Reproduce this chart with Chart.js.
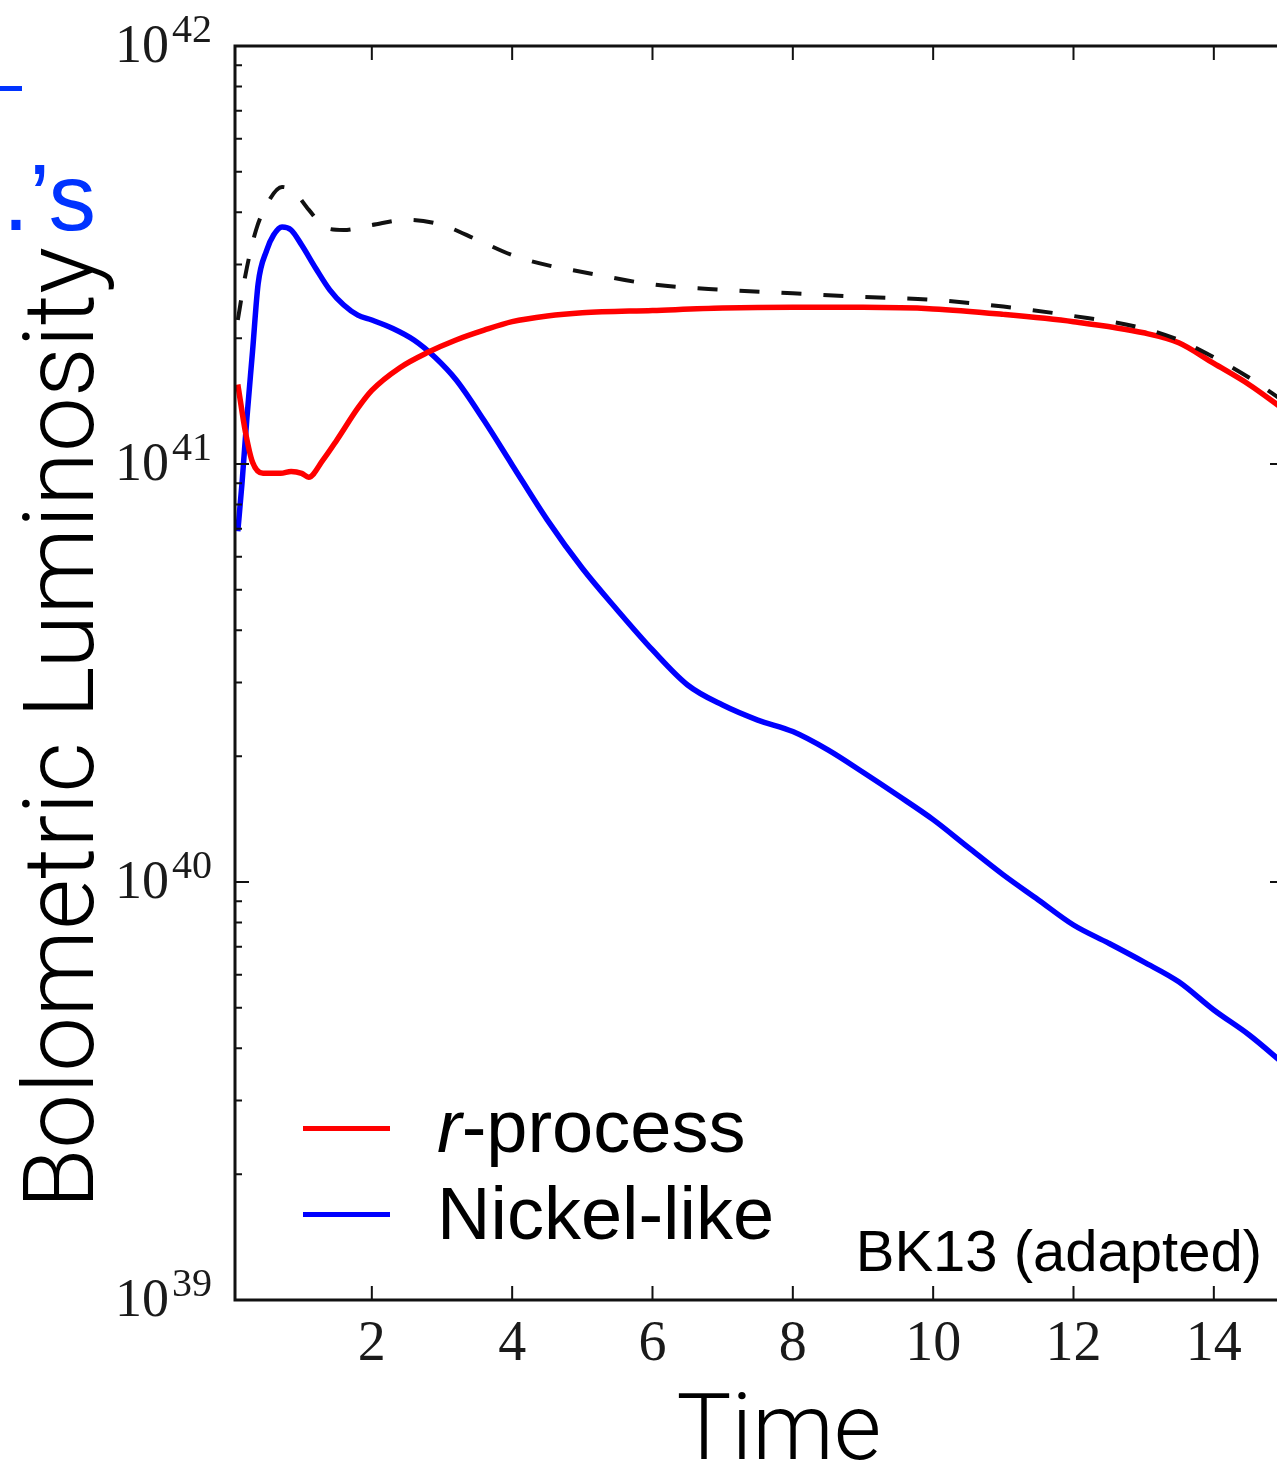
<!DOCTYPE html>
<html lang="en">
<head>
<meta charset="UTF-8">
<title>Bolometric Luminosity</title>
<script src="https://cdn.jsdelivr.net/npm/chart.js"></script>
<style>
  html, body { margin: 0; padding: 0; background: #fff; overflow: hidden; }
  body { width: 1277px; height: 1468px; position: relative; }
  #wrap { position: absolute; left: 0; top: 0; width: 1300px; height: 1468px; }
  .txt {
    position: absolute; white-space: nowrap; line-height: 1; color: #000;
    font-family: "Helvetica Neue", Roboto, "Liberation Sans", sans-serif; font-weight: 300;
  }
  #ytitle { font-size: 98px; left: 60px; top: 728px; transform: translate(-50%, -50%) rotate(-90deg); }
  #xtitle { font-size: 92px; left: 779px; top: 1382px; transform: translateX(-50%); }
  #note { font-size: 58px; font-weight: 400; font-family: "Helvetica Neue", "Liberation Sans", sans-serif; right: 15px; top: 1222px; }
  #blue2 { font-size: 95px; color: #0033ff; font-weight: 400; font-family: "Helvetica Neue", "Liberation Sans", sans-serif; right: 1181px; top: 150px; }
  #bluebar { position: absolute; left: 0; top: 86px; width: 22px; height: 5px; background: #0033ff; }
  .leg { font-size: 74px; font-weight: 400; font-family: "Helvetica Neue", "Liberation Sans", sans-serif; left: 437px; }
  .legline { position: absolute; left: 303px; width: 87px; height: 5px; }
</style>
</head>
<body>
<div id="wrap"><canvas id="lc" width="1300" height="1468"></canvas></div>

<div id="bluebar"></div>
<div class="txt" id="blue2">et al.’s</div>
<div class="txt" id="ytitle">Bolometric Luminosity</div>
<div class="txt" id="xtitle">Time</div>
<div class="legline" style="top:1126px;background:#ff0000"></div>
<div class="txt leg" style="top:1090px"><i>r</i>-process</div>
<div class="legline" style="top:1212px;background:#0000ff"></div>
<div class="txt leg" style="top:1177px">Nickel-like</div>
<div class="txt" id="note">BK13 (adapted)</div>

<script>
// r-process heating
const rTime = [0.09, 0.2, 0.3, 0.45, 0.7, 0.85, 1.0, 1.1, 1.3, 1.5, 1.8, 2.0, 2.4, 2.8, 3.2, 3.6, 4.0, 4.5, 5.0, 6.0, 7.0, 8.0, 9.0, 10.0, 11.0, 12.0, 13.0, 13.5, 14.0, 14.5, 15.0]
const rLum = [1.55e41, 1.19e41, 1.01e41, 9.5e40, 9.5e40, 9.6e40, 9.5e40, 9.3e40, 1.02e41, 1.14e41, 1.36e41, 1.50e41, 1.70e41, 1.85e41, 1.98e41, 2.09e41, 2.19e41, 2.26e41, 2.30e41, 2.33e41, 2.36e41, 2.37e41, 2.37e41, 2.35e41, 2.28e41, 2.19e41, 2.06e41, 1.95e41, 1.74e41, 1.55e41, 1.35e41]

// nickel-like heating
const niTime = [0.09, 0.15, 0.22, 0.3, 0.38, 0.5, 0.6, 0.72, 0.85, 1.0, 1.2, 1.4, 1.6, 1.8, 2.0, 2.3, 2.6, 2.9, 3.2, 3.6, 4.0, 4.5, 5.0, 5.5, 6.0, 6.5, 7.0, 7.5, 8.0, 8.5, 9.0, 9.5, 10.0, 10.5, 11.0, 11.5, 12.0, 12.5, 13.0, 13.5, 14.0, 14.5, 15.0]
const niLum = [6.9e40, 9.0e40, 1.29e41, 1.86e41, 2.7e41, 3.24e41, 3.53e41, 3.69e41, 3.63e41, 3.34e41, 2.94e41, 2.61e41, 2.40e41, 2.27e41, 2.21e41, 2.11e41, 1.98e41, 1.80e41, 1.59e41, 1.27e41, 9.95e40, 7.35e40, 5.63e40, 4.47e40, 3.59e40, 2.96e40, 2.65e40, 2.44e40, 2.29e40, 2.07e40, 1.83e40, 1.61e40, 1.41e40, 1.21e40, 1.04e40, 9.06e39, 7.89e39, 7.14e39, 6.44e39, 5.77e39, 4.94e39, 4.31e39, 3.67e39]

// total (dashed)
const sumTime = [0.09, 0.2, 0.35, 0.5, 0.72, 0.9, 1.1, 1.35, 1.6, 2.0, 2.5, 3.0, 3.5, 4.0, 4.5, 5.0, 6.0, 7.0, 8.0, 9.0, 10.0, 11.0, 12.0, 13.0, 13.5, 14.0, 14.5, 15.0]
const sumLum = [2.21e41, 2.84e41, 3.63e41, 4.17e41, 4.60e41, 4.47e41, 4.06e41, 3.67e41, 3.63e41, 3.73e41, 3.84e41, 3.73e41, 3.44e41, 3.16e41, 2.99e41, 2.88e41, 2.69e41, 2.61e41, 2.56e41, 2.51e41, 2.47e41, 2.38e41, 2.26e41, 2.11e41, 1.98e41, 1.80e41, 1.61e41, 1.41e41]

const xTicks = [2, 4, 6, 8, 10, 12, 14]
const yTicks = [1e39, 1e40, 1e41, 1e42]
const yExps = ['39', '40', '41', '42']
const minorMult = [2, 3, 4, 5, 6, 7, 8, 9]

const pts = (xs, ys) => xs.map((x, i) => ({ x: x, y: ys[i] }))

// frame, inward ticks and tick labels
const framePlugin = {
  id: 'frame',
  afterDraw(chart) {
    const { ctx, chartArea: a, scales } = chart
    const xs = scales.x
    const ys = scales.y
    ctx.save()
    ctx.strokeStyle = '#111'
    ctx.lineWidth = 3
    ctx.strokeRect(a.left, a.top, a.right - a.left, a.bottom - a.top)

    ctx.lineWidth = 2
    ctx.beginPath()
    xTicks.forEach((t) => {
      const px = xs.getPixelForValue(t)
      ctx.moveTo(px, a.bottom); ctx.lineTo(px, a.bottom - 14)
      ctx.moveTo(px, a.top); ctx.lineTo(px, a.top + 14)
    })
    yTicks.forEach((v, i) => {
      const py = ys.getPixelForValue(v)
      ctx.moveTo(a.left, py); ctx.lineTo(a.left + 14, py)
      ctx.moveTo(a.right, py); ctx.lineTo(a.right - 14, py)
      if (i < yTicks.length - 1) {
        minorMult.forEach((m) => {
          const pm = ys.getPixelForValue(v * m)
          ctx.moveTo(a.left, pm); ctx.lineTo(a.left + 7, pm)
          ctx.moveTo(a.right, pm); ctx.lineTo(a.right - 7, pm)
        })
      }
    })
    ctx.stroke()

    ctx.fillStyle = '#1a1a1a'
    ctx.textAlign = 'center'
    ctx.textBaseline = 'alphabetic'
    ctx.font = '56px "Liberation Serif", "DejaVu Serif", serif'
    xTicks.forEach((t) => {
      ctx.fillText(String(t), xs.getPixelForValue(t), 1360)
    })

    yTicks.forEach((v, i) => {
      const py = ys.getPixelForValue(v)
      ctx.textAlign = 'right'
      ctx.font = '54px "Liberation Serif", "DejaVu Serif", serif'
      ctx.fillText('10', 169, py + 16)
      ctx.textAlign = 'left'
      ctx.font = '40px "Liberation Serif", "DejaVu Serif", serif'
      ctx.fillText(yExps[i], 172, py - 4)
    })
    ctx.restore()
  }
}

new Chart(document.getElementById('lc'), {
  type: 'line',
  data: {
    datasets: [
      {
        label: 'total',
        data: pts(sumTime, sumLum),
        borderColor: '#111',
        borderWidth: 4,
        borderDash: [20, 22],
        pointRadius: 0,
        cubicInterpolationMode: 'monotone',
        order: 0
      },
      {
        label: 'r-process',
        data: pts(rTime, rLum),
        borderColor: '#ff0000',
        borderWidth: 5.5,
        pointRadius: 0,
        cubicInterpolationMode: 'monotone',
        order: 1
      },
      {
        label: 'Nickel-like',
        data: pts(niTime, niLum),
        borderColor: '#0000ff',
        borderWidth: 5.5,
        pointRadius: 0,
        cubicInterpolationMode: 'monotone',
        order: 2
      }
    ]
  },
  options: {
    responsive: false,
    animation: false,
    layout: { padding: { left: 235, top: 46, right: 16, bottom: 168 } },
    plugins: { legend: { display: false }, tooltip: { enabled: false } },
    scales: {
      x: { type: 'linear', min: 0.05, max: 15, display: false },
      y: { type: 'logarithmic', min: 1e39, max: 1e42, display: false }
    }
  },
  plugins: [framePlugin]
})
</script>
</body>
</html>
